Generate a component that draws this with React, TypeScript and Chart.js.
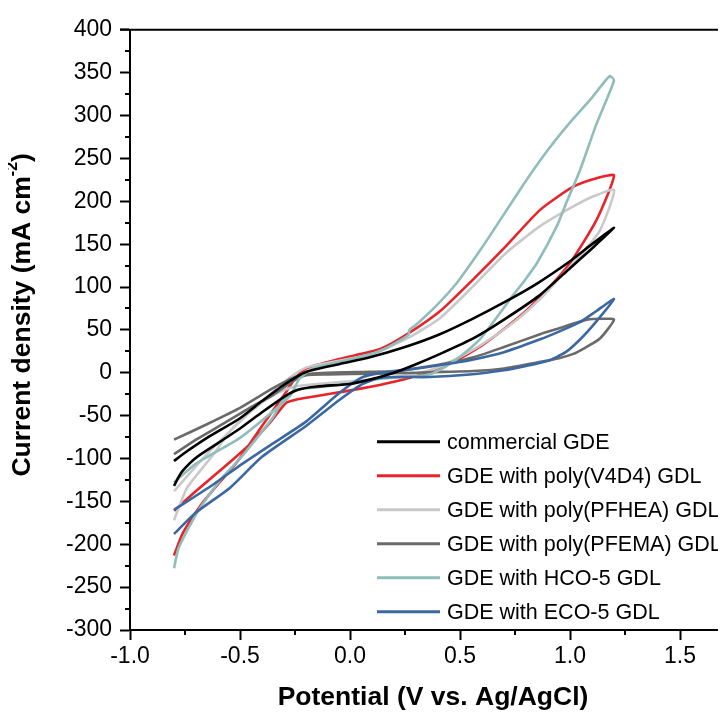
import React, { useEffect, useRef } from 'react';
import { Chart, registerables } from 'chart.js';

Chart.register(...registerables);

const FONT = '"Liberation Sans", Arial, Helvetica, sans-serif';

const seriesLabels = [
  'commercial GDE',
  'GDE with poly(V4D4) GDL',
  'GDE with poly(PFHEA) GDL',
  'GDE with poly(PFEMA) GDL',
  'GDE with HCO-5 GDL',
  'GDE with ECO-5 GDL',
];

const seriesColors = ['#000000', '#e8242b', '#c9c9c9', '#6a6a6a', '#91bcbc', '#3b68a3'];

// [potential (V), current density (mA cm-2)]
const commercialGDE: [number, number][] = [
  [-0.8, -132], [-0.78, -122], [-0.76, -114], [-0.7, -99], [-0.6, -82], [-0.5, -65], [-0.4, -46],
  [-0.3, -28], [-0.24, -20], [-0.15, -16], [0.0, -13], [0.09, -8], [0.2, 0], [0.3, 10], [0.41, 22],
  [0.56, 40], [0.7, 62], [0.86, 90], [1.0, 122], [1.1, 145], [1.2, 169],
  [1.1, 150], [1.0, 130], [0.85, 104], [0.7, 82], [0.55, 62], [0.4, 44], [0.25, 30], [0.09, 18],
  [-0.05, 10], [-0.2, 1], [-0.3, -14], [-0.4, -33], [-0.5, -53], [-0.65, -76], [-0.76, -95], [-0.8, -103],
];

const polyV4D4: [number, number][] = [
  [-0.8, -161], [-0.7, -138], [-0.545, -104], [-0.45, -82], [-0.36, -57], [-0.29, -35], [-0.24, -31],
  [-0.15, -27], [-0.03, -22], [0.1, -16], [0.21, -10], [0.32, -2], [0.47, 13], [0.6, 32], [0.7, 51],
  [0.8, 72], [0.9, 98], [1.0, 128], [1.12, 178], [1.2, 230],
  [1.136, 228], [1.015, 217], [0.864, 190], [0.71, 148], [0.56, 109], [0.41, 72], [0.26, 45],
  [0.14, 28], [-0.05, 16], [-0.2, 5], [-0.25, -7], [-0.3, -26], [-0.4, -62], [-0.51, -103],
  [-0.6, -130], [-0.68, -155], [-0.76, -187], [-0.8, -213],
];

const polyPFHEA: [number, number][] = [
  [-0.8, -172], [-0.74, -134], [-0.62, -95], [-0.545, -68], [-0.45, -45], [-0.35, -26], [-0.25, -16],
  [-0.1, -12], [0.05, -9], [0.2, -5], [0.35, 2], [0.45, 12], [0.6, 33], [0.75, 60], [0.864, 86],
  [0.95, 110], [1.045, 136], [1.136, 166], [1.2, 213],
  [1.1, 205], [1.015, 194], [0.864, 171], [0.71, 140], [0.56, 101], [0.41, 64], [0.26, 40],
  [0.1, 22], [-0.05, 14], [-0.2, 6], [-0.27, -5], [-0.35, -22], [-0.5, -57], [-0.65, -95], [-0.8, -138],
];

const polyPFEMA: [number, number][] = [
  [-0.8, -95], [-0.7, -78], [-0.58, -60], [-0.45, -40], [-0.35, -26], [-0.26, -10], [-0.2, -3],
  [-0.1, -2], [0.1, -1], [0.3, 0], [0.41, 1], [0.56, 2], [0.7, 5], [0.85, 12], [0.95, 17],
  [1.015, 22], [1.06, 28], [1.136, 40], [1.2, 62],
  [1.15, 63], [1.077, 62], [0.94, 51], [0.864, 45], [0.7, 30], [0.56, 18], [0.395, 9], [0.2, 2],
  [0.09, 1], [-0.1, 0], [-0.23, -3], [-0.35, -18], [-0.5, -41], [-0.65, -60], [-0.8, -78],
];

const hco5: [number, number][] = [
  [-0.8, -228], [-0.78, -205], [-0.74, -184], [-0.68, -157], [-0.58, -122], [-0.5, -100],
  [-0.42, -75], [-0.35, -52], [-0.3, -30], [-0.24, -20], [-0.15, -17], [-0.045, -14], [0.136, -7],
  [0.36, -2], [0.47, 13], [0.59, 39], [0.74, 90], [0.786, 105], [0.85, 128], [0.94, 171],
  [0.986, 200], [1.045, 236], [1.12, 290], [1.2, 341],
  [1.18, 346], [1.1, 321], [1.0, 292], [0.9, 260], [0.8, 224], [0.7, 185],
  [0.6, 146], [0.486, 105], [0.395, 79], [0.3, 56], [0.27, 50], [0.265, 44], [0.136, 25],
  [-0.045, 13], [-0.17, 5], [-0.23, -7], [-0.27, -26], [-0.35, -45], [-0.5, -76], [-0.7, -106], [-0.8, -128],
];

const eco5: [number, number][] = [
  [-0.8, -188], [-0.7, -163], [-0.545, -134], [-0.4, -98], [-0.2, -62], [-0.05, -32], [0.05, -14],
  [0.12, -7], [0.2, -5], [0.36, -5], [0.545, -2], [0.7, 3], [0.8, 8], [0.9, 14], [0.98, 24],
  [1.05, 40], [1.12, 60], [1.2, 86],
  [1.12, 72], [1.045, 59], [0.95, 48], [0.864, 39], [0.7, 24], [0.55, 15], [0.41, 9], [0.25, 3],
  [0.12, -1], [0.05, -6], [-0.05, -24], [-0.2, -57], [-0.36, -84], [-0.5, -108], [-0.62, -130], [-0.8, -160],
];

const seriesData = [commercialGDE, polyV4D4, polyPFHEA, polyPFEMA, hco5, eco5];

const xMin = -1.0;
const xMax = 1.709;
const xTickValues = [-1.0, -0.5, 0.0, 0.5, 1.0, 1.5];
const xMinorValues = [-0.75, -0.25, 0.25, 0.75, 1.25];
const yMin = -300;
const yMax = 400;
const yStep = 50;
const yMinorValues = [-275, -225, -175, -125, -75, -25, 25, 75, 125, 175, 225, 275, 325, 375];

const xTitle = 'Potential (V vs. Ag/AgCl)';
const yTitleMain = 'Current density (mA cm';
const yTitleSup = '-2';
const yTitleEnd = ')';

const decorPlugin = {
  id: 'decor',
  afterDraw(chart: any) {
    const ctx = chart.ctx as CanvasRenderingContext2D;
    const { left, top, bottom } = chart.chartArea;
    const xs = chart.scales.x;
    const ys = chart.scales.y;
    ctx.save();
    ctx.strokeStyle = '#000';
    ctx.lineWidth = 2;
    // top frame line
    ctx.beginPath();
    ctx.moveTo(left - 10, top);
    ctx.lineTo(chart.width, top);
    ctx.stroke();
    // minor ticks
    xMinorValues.forEach((v) => {
      const px = Math.round(xs.getPixelForValue(v));
      ctx.beginPath();
      ctx.moveTo(px, bottom);
      ctx.lineTo(px, bottom + 5);
      ctx.stroke();
    });
    yMinorValues.forEach((v) => {
      const py = Math.round(ys.getPixelForValue(v));
      ctx.beginPath();
      ctx.moveTo(left, py);
      ctx.lineTo(left - 5, py);
      ctx.stroke();
    });

    // legend
    ctx.font = `21.5px ${FONT}`;
    ctx.textBaseline = 'middle';
    ctx.textAlign = 'left';
    chart.data.datasets.forEach((ds: any, i: number) => {
      const y = top + 412 + i * 34;
      ctx.strokeStyle = ds.borderColor;
      ctx.lineWidth = 3;
      ctx.beginPath();
      ctx.moveTo(left + 247, y);
      ctx.lineTo(left + 310, y);
      ctx.stroke();
      ctx.fillStyle = '#000';
      ctx.fillText(ds.label, left + 317, y + 1);
    });

    // x title
    ctx.font = `bold 26.5px ${FONT}`;
    ctx.textAlign = 'center';
    ctx.textBaseline = 'middle';
    ctx.fillText(xTitle, left + 303, bottom + 68);

    // y title (rotated)
    ctx.translate(15, top + 285);
    ctx.rotate(-Math.PI / 2);
    const mainFont = `bold 26.5px ${FONT}`;
    const supFont = `bold 16px ${FONT}`;
    ctx.font = mainFont;
    const w1 = ctx.measureText(yTitleMain).width;
    const w3 = ctx.measureText(yTitleEnd).width;
    ctx.font = supFont;
    const w2 = ctx.measureText(yTitleSup).width;
    const total = w1 + w2 + w3;
    let x0 = -total / 2;
    ctx.textAlign = 'left';
    ctx.font = mainFont;
    ctx.fillText(yTitleMain, x0, 0);
    x0 += w1;
    ctx.font = supFont;
    ctx.fillText(yTitleSup, x0, -10);
    x0 += w2;
    ctx.font = mainFont;
    ctx.fillText(yTitleEnd, x0, 0);
    ctx.restore();
  },
};

export default function App() {
  const ref = useRef<HTMLCanvasElement | null>(null);
  useEffect(() => {
    if (!ref.current) return;
    const chart = new Chart(ref.current, {
      type: 'scatter',
      data: {
        datasets: seriesData.map((pts, i) => ({
          label: seriesLabels[i],
          data: pts.map(([x, y]) => ({ x, y })),
          showLine: true,
          borderColor: seriesColors[i],
          backgroundColor: seriesColors[i],
          borderWidth: 2.6,
          pointRadius: 0,
          tension: 0.2,
          order: i === 0 ? -1 : 6 - i,
        })),
      },
      options: {
        responsive: false,
        animation: false,
        layout: { padding: { top: 17, right: 0, left: 0, bottom: 0 } },
        plugins: { legend: { display: false }, tooltip: { enabled: false } },
        scales: {
          x: {
            type: 'linear',
            min: xMin,
            max: xMax,
            afterBuildTicks: (scale: any) => {
              scale.ticks = xTickValues.map((v) => ({ value: v }));
            },
            afterFit: (scale: any) => {
              scale.height = 85;
            },
            ticks: {
              color: '#000',
              font: { family: FONT, size: 23 },
              padding: 3,
              maxRotation: 0,
              callback: (v: any) => Number(v).toFixed(1),
            },
            grid: {
              drawOnChartArea: false,
              drawTicks: true,
              tickLength: 10,
              tickWidth: 2,
              tickColor: '#000',
            },
            border: { display: true, color: '#000', width: 2 },
          },
          y: {
            type: 'linear',
            min: yMin,
            max: yMax,
            afterFit: (scale: any) => {
              scale.width = 122;
            },
            ticks: {
              stepSize: yStep,
              color: '#000',
              font: { family: FONT, size: 23 },
              padding: 8,
            },
            grid: {
              drawOnChartArea: false,
              drawTicks: true,
              tickLength: 10,
              tickWidth: 2,
              tickColor: '#000',
            },
            border: { display: true, color: '#000', width: 2 },
          },
        },
      },
      plugins: [decorPlugin],
    });
    return () => chart.destroy();
  }, []);
  return <canvas ref={ref} width={718} height={707} style={{ display: 'block' }} />;
}
